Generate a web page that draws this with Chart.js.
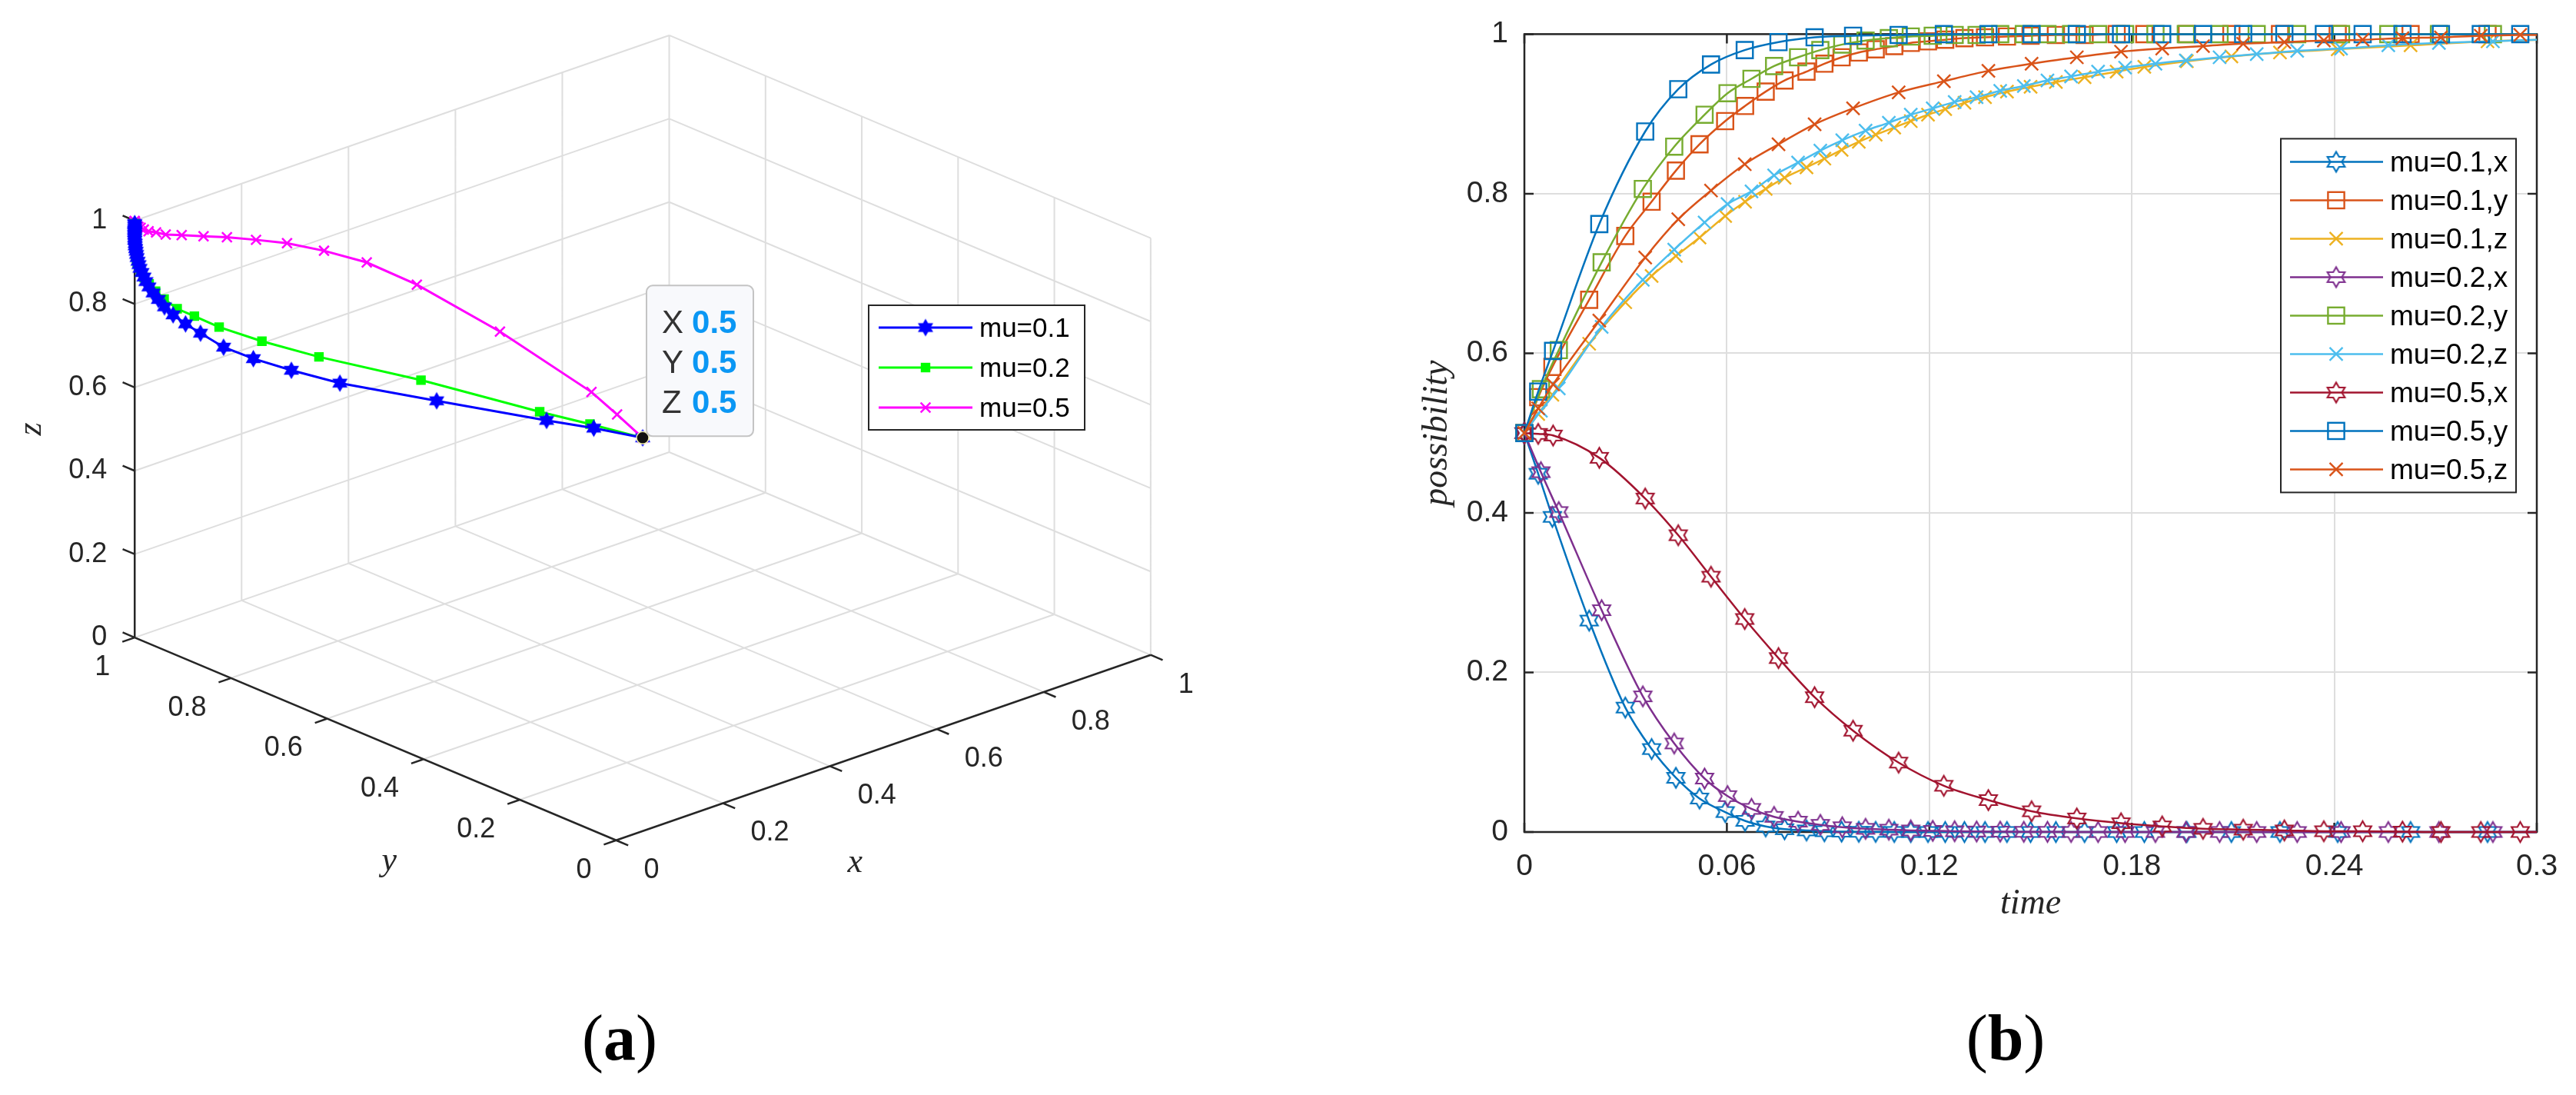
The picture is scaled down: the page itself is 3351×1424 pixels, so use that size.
<!DOCTYPE html>
<html>
<head>
<meta charset="utf-8">
<title>mu trajectories</title>
<script src="https://cdn.jsdelivr.net/npm/chart.js@4.4.1/dist/chart.umd.min.js"></script>
<style>
  html, body { margin: 0; padding: 0; background: #fff; }
  body { width: 3351px; height: 1424px; position: relative; overflow: hidden; }
  #wrapA { position: absolute; left: 0; top: 0; width: 1675px; height: 1424px; }
  #wrapB { position: absolute; left: 1675px; top: 0; width: 1676px; height: 1424px; }
  .cap { position: absolute; top: 1308px; width: 300px; text-align: center;
         font-family: "Liberation Serif", "DejaVu Serif", serif; font-size: 84px; line-height: 84px; color: #000; }
</style>
</head>
<body>
<div id="wrapA"><canvas id="chartA" width="1675" height="1424"></canvas></div>
<div id="wrapB"><canvas id="chartB" width="1676" height="1424"></canvas></div>
<div class="cap" style="left:656px">(<b>a</b>)</div>
<div class="cap" style="left:2459px">(<b>b</b>)</div>
<script>
// ---- data ----
// mu = 0.1
var time01 = [0, 0.0041, 0.0083, 0.0192, 0.0299, 0.0377, 0.0449, 0.0519, 0.0595, 0.0654, 0.0715, 0.0771,
              0.0836, 0.0889, 0.0940, 0.0991, 0.1041, 0.1096, 0.1145, 0.1196, 0.1247, 0.1304, 0.1365, 0.1430,
              0.1500, 0.1575, 0.1660, 0.1755, 0.1837, 0.1963, 0.2095, 0.2239, 0.2410, 0.2626, 0.2854, 0.3000];
var x01 = [0.5, 0.449, 0.395, 0.265, 0.156, 0.104, 0.068, 0.042, 0.025, 0.014, 0.007, 0.0035,
           0.002, 0.001, 0.0005, 0.0003, 0.0002, 0.0001, 0, 0, 0, 0, 0, 0,
           0, 0, 0, 0, 0, 0, 0, 0, 0, 0, 0, 0];
var y01 = [0.5, 0.545, 0.583, 0.667, 0.747, 0.790, 0.829, 0.862, 0.891, 0.910, 0.928, 0.942,
           0.953, 0.963, 0.971, 0.977, 0.981, 0.985, 0.989, 0.991, 0.993, 0.995, 0.996, 0.997,
           0.998, 0.999, 0.999, 1, 1, 1, 1, 1, 1, 1, 1, 1];
var z01 = [0.5, 0.524, 0.548, 0.612, 0.664, 0.697, 0.722, 0.745, 0.772, 0.790, 0.806, 0.820,
           0.833, 0.844, 0.855, 0.865, 0.874, 0.883, 0.891, 0.899, 0.906, 0.914, 0.921, 0.928,
           0.934, 0.940, 0.946, 0.953, 0.959, 0.966, 0.972, 0.977, 0.981, 0.986, 0.991, 0.993];
// mu = 0.2
var time02 = [0, 0.0049, 0.0102, 0.0229, 0.0351, 0.0444, 0.0534, 0.0602, 0.0673, 0.0740, 0.0811, 0.0877,
              0.0942, 0.1011, 0.1080, 0.1145, 0.1210, 0.1275, 0.1340, 0.1410, 0.1480, 0.1550, 0.1620, 0.1700,
              0.1780, 0.1870, 0.1960, 0.2060, 0.2170, 0.2290, 0.2420, 0.2560, 0.2710, 0.2870, 0.3000];
var x02 = [0.5, 0.451, 0.401, 0.278, 0.170, 0.111, 0.067, 0.045, 0.029, 0.019, 0.013, 0.009,
           0.006, 0.004, 0.003, 0.002, 0.0015, 0.001, 0.0007, 0.0005, 0.0003, 0.0002, 0.0001, 0,
           0, 0, 0, 0, 0, 0, 0, 0, 0, 0, 0];
var y02 = [0.5, 0.555, 0.604, 0.714, 0.806, 0.859, 0.899, 0.926, 0.944, 0.960, 0.971, 0.980,
           0.987, 0.992, 0.995, 0.997, 0.998, 0.999, 0.999, 1, 1, 1, 1, 1,
           1, 1, 1, 1, 1, 1, 1, 1, 1, 1, 1];
var z02 = [0.5, 0.528, 0.556, 0.633, 0.692, 0.730, 0.764, 0.787, 0.803, 0.823, 0.839, 0.854,
           0.867, 0.879, 0.889, 0.899, 0.907, 0.915, 0.921, 0.929, 0.935, 0.942, 0.947, 0.953,
           0.958, 0.963, 0.967, 0.971, 0.975, 0.979, 0.982, 0.986, 0.989, 0.991, 0.993];
// mu = 0.5
var time05 = [0, 0.0041, 0.0085, 0.0222, 0.0358, 0.0456, 0.0553, 0.0653, 0.0753, 0.0860, 0.0974, 0.1109,
              0.1243, 0.1375, 0.1503, 0.1637, 0.1768, 0.1890, 0.2011, 0.2130, 0.2252, 0.2369, 0.2484, 0.2602,
              0.2716, 0.2834, 0.2951, 0.3000];
var x05 = [0.5, 0.499, 0.497, 0.469, 0.418, 0.372, 0.320, 0.267, 0.218, 0.169, 0.127, 0.087,
           0.058, 0.040, 0.026, 0.017, 0.011, 0.007, 0.004, 0.003, 0.002, 0.001, 0.001, 0.0005,
           0, 0, 0, 0];
var y05 = [0.5, 0.552, 0.603, 0.762, 0.878, 0.931, 0.962, 0.980, 0.990, 0.996, 0.998, 0.999,
           1, 1, 1, 1, 1, 1, 1, 1, 1, 1, 1, 1,
           1, 1, 1, 1];
var z05 = [0.5, 0.531, 0.561, 0.641, 0.720, 0.768, 0.804, 0.837, 0.862, 0.887, 0.907, 0.927,
           0.941, 0.954, 0.963, 0.971, 0.978, 0.982, 0.985, 0.988, 0.990, 0.992, 0.993, 0.995,
           0.996, 0.998, 0.999, 0.999];

var muLabels = ['mu=0.1', 'mu=0.2', 'mu=0.5'];
var timeTicks = [0, 0.06, 0.12, 0.18, 0.24, 0.3];
var unitTicks = [0, 0.2, 0.4, 0.6, 0.8, 1];

// ---- styles ----
var SANS = '"Liberation Sans", Arial, Helvetica, sans-serif';
var SERIF = '"Liberation Serif", "DejaVu Serif", serif';
var TEXT = '#262626';
var AXIS = '#262626';
var GRID = '#dedede';

function hexagram(color, R, lw, filled) {
    var size = Math.ceil(2 * R + 2 * lw + 4);
    var c = document.createElement('canvas');
    c.width = size; c.height = size;
    var g = c.getContext('2d');
    var m = size / 2;
    g.beginPath();
    for (var k = 0; k < 12; k++) {
        var r = (k % 2 === 0) ? R : R / Math.sqrt(3);
        var a = -Math.PI / 2 + k * Math.PI / 6;
        g.lineTo(m + r * Math.cos(a), m + r * Math.sin(a));
    }
    g.closePath();
    if (filled) { g.fillStyle = color; g.fill(); }
    g.strokeStyle = color;
    g.lineWidth = lw;
    g.stroke();
    return c;
}

// draw a marker the way Chart.js sizes its own point styles
function drawMarker(ctx, style, radius, color, lw, filled, x, y) {
    ctx.save();
    ctx.strokeStyle = color;
    ctx.fillStyle = color;
    ctx.lineWidth = lw;
    if (typeof style === 'object') {
        ctx.drawImage(style, x - style.width / 2, y - style.height / 2);
    } else if (style === 'rect') {
        var s = Math.SQRT1_2 * radius;
        if (filled) ctx.fillRect(x - s, y - s, 2 * s, 2 * s);
        ctx.strokeRect(x - s, y - s, 2 * s, 2 * s);
    } else if (style === 'crossRot') {
        var d = Math.SQRT1_2 * radius;
        ctx.beginPath();
        ctx.moveTo(x - d, y - d); ctx.lineTo(x + d, y + d);
        ctx.moveTo(x + d, y - d); ctx.lineTo(x - d, y + d);
        ctx.stroke();
    }
    ctx.restore();
}

function pairs(t, v) {
    return t.map(function (tt, i) { return { x: tt, y: v[i] }; });
}

// ================= panel (b) =================
var colorsB = ['#0072BD', '#D95319', '#EDB120', '#7E2F8E', '#77AC30', '#4DBEEE', '#A2142F', '#0072BD', '#D95319'];
var seriesB = [
    { label: 'mu=0.1,x', t: time01, v: x01, kind: 'hex' },
    { label: 'mu=0.1,y', t: time01, v: y01, kind: 'sq' },
    { label: 'mu=0.1,z', t: time01, v: z01, kind: 'x' },
    { label: 'mu=0.2,x', t: time02, v: x02, kind: 'hex' },
    { label: 'mu=0.2,y', t: time02, v: y02, kind: 'sq' },
    { label: 'mu=0.2,z', t: time02, v: z02, kind: 'x' },
    { label: 'mu=0.5,x', t: time05, v: x05, kind: 'hex' },
    { label: 'mu=0.5,y', t: time05, v: y05, kind: 'sq' },
    { label: 'mu=0.5,z', t: time05, v: z05, kind: 'x' }
];

var datasetsB = seriesB.map(function (s, i) {
    var c = colorsB[i];
    var style, r;
    if (s.kind === 'hex') { style = hexagram(c, 13, 2.2, false); r = 12; }
    else if (s.kind === 'sq') { style = 'rect'; r = 15; }
    else { style = 'crossRot'; r = 12; }
    var last = s.t.length - 1;
    return {
        label: s.label,
        data: pairs(s.t, s.v),
        borderColor: c,
        borderWidth: 2.5,
        pointStyle: style,
        pointRadius: function (ctx) { return ctx.dataIndex === last ? 0 : r; },
        pointBorderColor: c,
        pointBackgroundColor: 'rgba(0,0,0,0)',
        pointBorderWidth: 2.4,
        cubicInterpolationMode: 'monotone',
        fill: false,
        clip: false,
        order: seriesB.length - 1 - i
    };
});

var frameB = {
    id: 'frameB',
    beforeDatasetsDraw: function (chart) {
        var ctx = chart.ctx, a = chart.chartArea, xs = chart.scales.x, ys = chart.scales.y;
        ctx.save();
        ctx.strokeStyle = AXIS;
        ctx.lineWidth = 2.5;
        ctx.strokeRect(a.left, a.top, a.right - a.left, a.bottom - a.top);
        ctx.beginPath();
        timeTicks.forEach(function (t) {
            var px = xs.getPixelForValue(t);
            ctx.moveTo(px, a.bottom); ctx.lineTo(px, a.bottom - 12);
            ctx.moveTo(px, a.top); ctx.lineTo(px, a.top + 12);
        });
        unitTicks.forEach(function (v) {
            var py = ys.getPixelForValue(v);
            ctx.moveTo(a.left, py); ctx.lineTo(a.left + 12, py);
            ctx.moveTo(a.right, py); ctx.lineTo(a.right - 12, py);
        });
        ctx.stroke();
        ctx.restore();
    }
};

var legendB = {
    id: 'legendB',
    afterDraw: function (chart) {
        var ctx = chart.ctx, a = chart.chartArea;
        var left = a.right - 333, top = a.top + 136, w = 306, h = 460;
        ctx.save();
        ctx.fillStyle = '#fff';
        ctx.fillRect(left, top, w, h);
        ctx.strokeStyle = AXIS;
        ctx.lineWidth = 2;
        ctx.strokeRect(left, top, w, h);
        ctx.font = '37px ' + SANS;
        ctx.textBaseline = 'middle';
        ctx.textAlign = 'left';
        chart.data.datasets.forEach(function (ds, i) {
            var y = top + 30 + i * 50;
            ctx.strokeStyle = ds.borderColor;
            ctx.lineWidth = 2.5;
            ctx.beginPath();
            ctx.moveTo(left + 12, y); ctx.lineTo(left + 133, y);
            ctx.stroke();
            var r = ds.pointStyle === 'rect' ? 15 : 12;
            drawMarker(ctx, ds.pointStyle, r, ds.borderColor, 2.4, false, left + 72, y);
            ctx.fillStyle = '#000';
            ctx.fillText(ds.label, left + 142, y + 2);
        });
        ctx.restore();
    }
};

function fmtTick(v) { return String(Math.round(v * 100) / 100); }

new Chart(document.getElementById('chartB'), {
    type: 'line',
    data: { datasets: datasetsB },
    options: {
        responsive: false,
        animation: false,
        devicePixelRatio: 1,
        layout: { padding: { left: 163, right: 51, top: 43, bottom: 216 } },
        plugins: { legend: { display: false }, tooltip: { enabled: false } },
        scales: {
            x: {
                type: 'linear', min: 0, max: 0.3,
                afterFit: function (s) { s.height = 126; },
                ticks: { stepSize: 0.06, padding: 22, color: TEXT, maxRotation: 0, autoSkip: false,
                         font: { family: SANS, size: 39 }, callback: fmtTick },
                grid: { color: GRID, lineWidth: 2, drawTicks: false },
                border: { display: false },
                title: { display: true, text: 'time', color: TEXT, padding: { top: 4, bottom: 4 },
                         font: { family: SERIF, style: 'italic', size: 46 } }
            },
            y: {
                type: 'linear', min: 0, max: 1,
                afterFit: function (s) { s.width = 145; },
                ticks: { stepSize: 0.2, padding: 21, color: TEXT, font: { family: SANS, size: 39 }, callback: fmtTick },
                grid: { color: GRID, lineWidth: 2, drawTicks: false },
                border: { display: false },
                title: { display: true, text: 'possibility', color: TEXT, padding: { top: 4, bottom: 4 },
                         font: { family: SERIF, style: 'italic', size: 46 } }
            }
        }
    },
    plugins: [frameB, legendB]
});

// ================= panel (a) : 3-D view projected onto the page =================
// screen direction of each unit axis (page units, 1 unit = 1000 px, up is positive)
var EX = [0.705, 0.245], EY = [-0.635, 0.268], EZ = [0, 0.551];
function project(x, y, z) {
    return { x: x * EX[0] + y * EY[0] + z * EZ[0], y: x * EX[1] + y * EY[1] + z * EZ[1] };
}
function path3d(xv, yv, zv) {
    return xv.map(function (xx, i) { return project(xx, yv[i], zv[i]); });
}

var colorsA = ['#0000FF', '#00FF00', '#FF00FF'];
var stylesA = [hexagram('#0000FF', 10, 1.5, true), 'rect', 'crossRot'];
var radiusA = [9, 7, 9];
var pathsA = [path3d(x01, y01, z01), path3d(x02, y02, z02), path3d(x05, y05, z05)];

var datasetsA = pathsA.map(function (p, i) {
    return {
        label: muLabels[i],
        data: p,
        showLine: true,
        borderColor: colorsA[i],
        borderWidth: 3,
        tension: 0,
        pointStyle: stylesA[i],
        pointRadius: radiusA[i],
        pointBorderColor: colorsA[i],
        pointBackgroundColor: colorsA[i],
        pointBorderWidth: 2.5,
        clip: false,
        order: i + 1
    };
});
// data tip on the common start point
datasetsA.push({
    label: 'tip',
    data: [project(x01[0], y01[0], z01[0])],
    pointRadius: 8,
    pointBackgroundColor: '#111',
    pointBorderColor: '#f3f0b0',
    pointBorderWidth: 1.5,
    clip: false,
    order: 0
});

var boxA = {
    id: 'boxA',
    beforeDatasetsDraw: function (chart) {
        var ctx = chart.ctx, xs = chart.scales.x, ys = chart.scales.y;
        function P(x, y, z) {
            var q = project(x, y, z);
            return [xs.getPixelForValue(q.x), ys.getPixelForValue(q.y)];
        }
        function seg(a, b) { ctx.moveTo(a[0], a[1]); ctx.lineTo(b[0], b[1]); }
        ctx.save();
        ctx.strokeStyle = GRID;
        ctx.lineWidth = 2;
        ctx.beginPath();
        unitTicks.forEach(function (k) {
            // floor z = 0
            if (k > 0) seg(P(k, 0, 0), P(k, 1, 0));
            if (k > 0) seg(P(0, k, 0), P(1, k, 0));
            // back wall y = 1
            if (k > 0) seg(P(k, 1, 0), P(k, 1, 1));
            seg(P(0, 1, k), P(1, 1, k));
            // back wall x = 1
            seg(P(1, k, 0), P(1, k, 1));
            seg(P(1, 0, k), P(1, 1, k));
        });
        ctx.stroke();

        ctx.strokeStyle = AXIS;
        ctx.lineWidth = 2.5;
        ctx.beginPath();
        seg(P(0, 0, 0), P(1, 0, 0));
        seg(P(0, 0, 0), P(0, 1, 0));
        seg(P(0, 1, 0), P(0, 1, 1));
        var L = 17;
        var ny = Math.hypot(EY[0], EY[1]), nx = Math.hypot(EX[0], EX[1]);
        var dy = [EY[0] / ny * L, -EY[1] / ny * L], dx = [EX[0] / nx * L, -EX[1] / nx * L];
        unitTicks.forEach(function (k) {
            var p = P(k, 0, 0); seg(p, [p[0] - dy[0], p[1] - dy[1]]);
            p = P(0, k, 0); seg(p, [p[0] - dx[0], p[1] - dx[1]]);
            p = P(0, 1, k); seg(p, [p[0] + dy[0], p[1] + dy[1]]);
        });
        ctx.stroke();

        ctx.fillStyle = TEXT;
        ctx.font = '36px ' + SANS;
        ctx.textBaseline = 'middle';
        unitTicks.forEach(function (k) {
            var lab = fmtTick(k), p;
            ctx.textAlign = 'right';
            p = P(0, 1, k); ctx.fillText(lab, p[0] - 36, p[1]);
            p = P(0, k, 0); ctx.fillText(lab, p[0] - 32, p[1] + 39);
            ctx.textAlign = 'left';
            p = P(k, 0, 0); ctx.fillText(lab, p[0] + 36, p[1] + 39);
        });

        ctx.font = 'italic 44px ' + SERIF;
        ctx.textAlign = 'center';
        var p = P(0.5, 0, 0); ctx.fillText('x', p[0] - 37, p[1] + 150);
        p = P(0, 0.5, 0); ctx.fillText('y', p[0] + 18, p[1] + 160);
        p = P(0, 1, 0.5);
        ctx.translate(p[0] - 134, p[1]);
        ctx.rotate(-Math.PI / 2);
        ctx.fillText('z', 0, 0);
        ctx.restore();
    }
};

var overlayA = {
    id: 'overlayA',
    afterDraw: function (chart) {
        var ctx = chart.ctx;
        var tip = chart.getDatasetMeta(chart.data.datasets.length - 1).data[0];
        var bx = tip.x + 5, by = tip.y - 198, bw = 139, bh = 196;
        ctx.save();
        ctx.beginPath();
        if (ctx.roundRect) ctx.roundRect(bx, by, bw, bh, 8); else ctx.rect(bx, by, bw, bh);
        ctx.fillStyle = '#f8f9fc';
        ctx.fill();
        ctx.strokeStyle = '#c4c4c4';
        ctx.lineWidth = 2;
        ctx.stroke();
        ctx.textBaseline = 'middle';
        ctx.textAlign = 'left';
        ['X', 'Y', 'Z'].forEach(function (n, i) {
            var y = by + 50 + i * 52;
            ctx.font = '42px ' + SANS;
            ctx.fillStyle = '#333';
            ctx.fillText(n, bx + 20, y);
            ctx.font = 'bold 42px ' + SANS;
            ctx.fillStyle = '#0b97f4';
            ctx.fillText(String([x01[0], y01[0], z01[0]][i]), bx + 59, y);
        });

        // legend
        var lx = 1130, ly = 397, lw = 281, lh = 162;
        ctx.fillStyle = '#fff';
        ctx.fillRect(lx, ly, lw, lh);
        ctx.strokeStyle = AXIS;
        ctx.lineWidth = 2;
        ctx.strokeRect(lx, ly, lw, lh);
        ctx.font = '35px ' + SANS;
        for (var i = 0; i < 3; i++) {
            var y = ly + 29 + i * 52;
            ctx.strokeStyle = colorsA[i];
            ctx.lineWidth = 3;
            ctx.beginPath();
            ctx.moveTo(lx + 13, y); ctx.lineTo(lx + 135, y);
            ctx.stroke();
            drawMarker(ctx, stylesA[i], radiusA[i], colorsA[i], 2.5, true, lx + 74, y);
            ctx.fillStyle = '#000';
            ctx.fillText(muLabels[i], lx + 144, y + 2);
        }
        ctx.restore();
    }
};

new Chart(document.getElementById('chartA'), {
    type: 'scatter',
    data: { datasets: datasetsA },
    options: {
        responsive: false,
        animation: false,
        devicePixelRatio: 1,
        layout: { padding: 0 },
        plugins: { legend: { display: false }, tooltip: { enabled: false } },
        scales: {
            x: { type: 'linear', min: -0.801, max: 0.874, display: false },
            y: { type: 'linear', min: -0.325, max: 1.099, display: false }
        }
    },
    plugins: [boxA, overlayA]
});
</script>
</body>
</html>
